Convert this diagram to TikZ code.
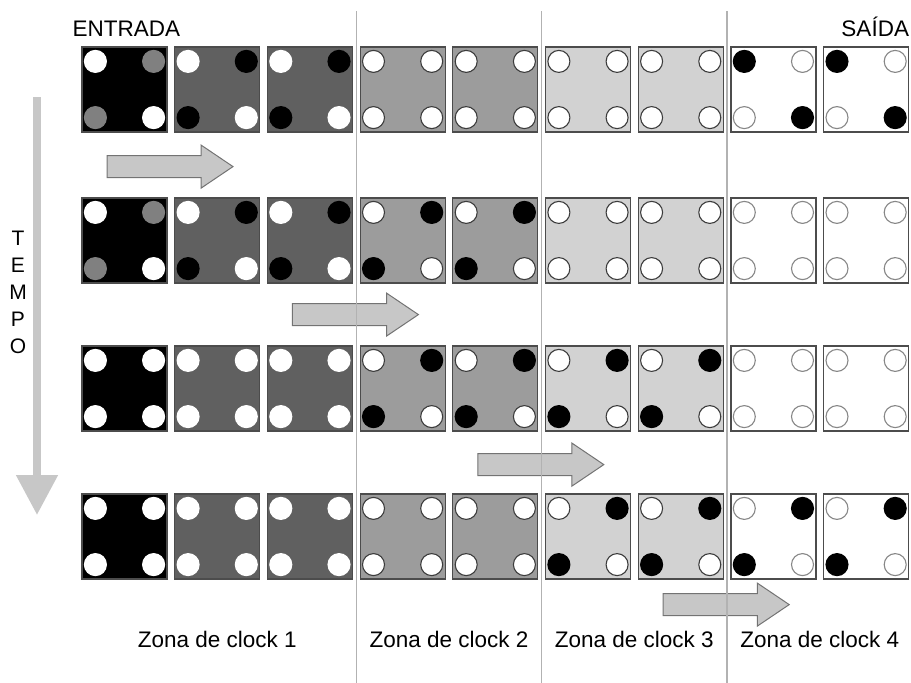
\documentclass[tikz,border=0pt]{standalone}
\usepackage{fontspec}
\setmainfont{Liberation Sans}
\usetikzlibrary{arrows.meta, shapes.arrows, positioning, calc}
\definecolor{zonedark}{RGB}{96,96,96}
\definecolor{zonemid}{RGB}{156,156,156}
\definecolor{zonelight}{RGB}{210,210,210}
\definecolor{ringdark}{RGB}{60,60,60}
\definecolor{ringlight}{RGB}{135,135,135}
\colorlet{fillw}{white}
\colorlet{fillb}{black}
\colorlet{fillg}{black!50}
\colorlet{ringw}{white}
\colorlet{ringb}{black}
\colorlet{ringg}{black!50}

\begin{document}
\begin{tikzpicture}[x=1pt, y=-1pt,
  lbl/.style={font=\fontsize{22.5}{27}\selectfont, inner sep=0pt},
  cellbox/.style={draw=black!70, line width=1.2pt, minimum size=85pt, inner sep=0pt},
  bead/.style={circle, minimum size=22pt, inner sep=0pt, line width=1.1pt, fill=fill#1, draw=ring#1},
  flowarrow/.style={single arrow, draw=black!55, fill=black!22, line width=1pt, minimum height=126pt, inner xsep=0pt, inner ysep=10.5pt, single arrow head extend=10.5pt, single arrow tip angle=68},
  zoneline/.style={draw=black!30, line width=1.2pt},
  tempoarrow/.style={draw=black!22, line width=8pt, -{Triangle[width=40pt, length=40pt]}},
]
\useasboundingbox (0,0) rectangle (911,683);

% Cells, column by column
\foreach \fillc [count=\k] in {black,zonedark,zonedark,zonemid,zonemid,zonelight,zonelight,white,white}{
  \foreach \ytop [count=\r] in {47,198,346,494}{
    \node[cellbox, fill=\fillc] (c\r-\k) at ({82+92.7*(\k-1)+42.5}, {\ytop+42.5}) {};
  }
}

% Beads: \diag = top left & bottom right, \anti = top right & bottom left
\foreach \row [count=\r] in {%
{w/g,w/b,w/b,w/w,w/w,w/w,w/w,b/w,b/w},%
{w/g,w/b,w/b,w/b,w/b,w/w,w/w,w/w,w/w},%
{w/w,w/w,w/w,w/b,w/b,w/b,w/b,w/w,w/w},%
{w/w,w/w,w/w,w/w,w/w,w/b,w/b,w/b,w/b}}{
  \foreach \diag/\anti [count=\k] in \row {
    \pgfmathparse{{"white","white","white","ringdark","ringdark","ringdark","ringdark","ringlight","ringlight"}[\k-1]}
    \colorlet{ringw}{\pgfmathresult}
    \node[bead=\diag] (b\r-\k-tl) at ([shift={(14,15)}]c\r-\k.north west) {};
    \node[bead=\anti] (b\r-\k-tr) at ([shift={(-14,15)}]c\r-\k.north east) {};
    \node[bead=\anti] (b\r-\k-bl) at ([shift={(14,-15)}]c\r-\k.south west) {};
    \node[bead=\diag] (b\r-\k-br) at ([shift={(-14,-15)}]c\r-\k.south east) {};
  }
}

% Data flow arrows, one per clock step
\foreach \r/\dy [evaluate=\r as \k using int(2*\r-1), evaluate=\r as \kk using int(2*\r)] in {1/34,2/31,3/33,4/25}{
  \node[flowarrow] (flow\r) at ($(c\r-\k.south east)!.5!(c\r-\kk.south west)+(-9,\dy)$) {};
}

% Zone dividers
\foreach \lft/\rgt [count=\i] in {3/4,5/6,7/8}{
  \coordinate (div\i-top) at ($(c1-\lft.north east)!.5!(c1-\rgt.north west)+(0,-35)$);
  \coordinate (div\i-end) at (div\i-top |- 0,683);
  \draw[zoneline] (div\i-top) -- (div\i-end);
}

% Labels
\node[lbl, anchor=base west] (entrada) at ($(c1-1.north west)+(-9,-10)$) {ENTRADA};
\node[lbl, anchor=base east] (saida) at ($(c1-9.north east)+(0,-10)$) {SAÍDA};
\node[lbl, anchor=base] (zone1) at ($(c4-2.south)+(0,68)$) {Zona de clock 1};
\node[lbl, anchor=base] (zone2) at ($(c4-4.south)!.5!(c4-5.south)+(0,68)$) {Zona de clock 2};
\node[lbl, anchor=base] (zone3) at ($(c4-6.south)!.5!(c4-7.south)+(0,68)$) {Zona de clock 3};
\node[lbl, anchor=base] (zone4) at ($(c4-8.south)!.5!(c4-9.south)+(0,68)$) {Zona de clock 4};

% Time axis
\node[font=\fontsize{21}{27}\selectfont, align=center, inner sep=0pt] (tempo) at (18,292) {T\\E\\M\\P\\O};
\coordinate (tempo-top) at (37,97);
\coordinate (tempo-tip) at (37,515);
\draw[tempoarrow] (tempo-top) -- (tempo-tip);
\end{tikzpicture}
\end{document}
